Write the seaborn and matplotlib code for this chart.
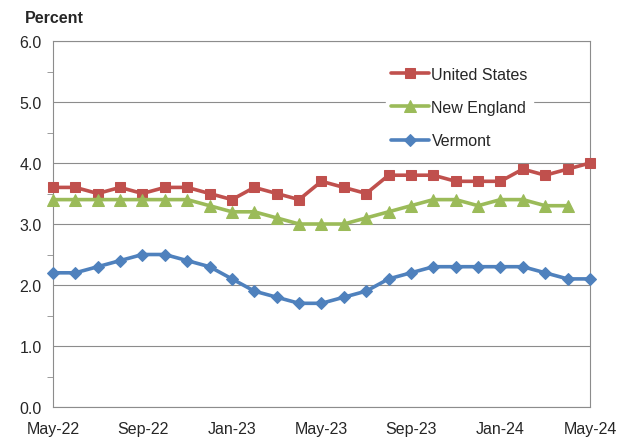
import numpy as np
import pandas as pd
import matplotlib
matplotlib.use('Agg')
import matplotlib.pyplot as plt
import seaborn as sns
from matplotlib.ticker import MultipleLocator

# monthly data, May-22 .. May-24
months = pd.date_range('2022-05-01', '2024-05-01', freq='MS')
us = [3.6, 3.6, 3.5, 3.6, 3.5, 3.6, 3.6, 3.5, 3.4, 3.6, 3.5, 3.4, 3.7,
      3.6, 3.5, 3.8, 3.8, 3.8, 3.7, 3.7, 3.7, 3.9, 3.8, 3.9, 4.0]
new_england = [3.4, 3.4, 3.4, 3.4, 3.4, 3.4, 3.4, 3.3, 3.2, 3.2, 3.1, 3.0, 3.0,
               3.0, 3.1, 3.2, 3.3, 3.4, 3.4, 3.3, 3.4, 3.4, 3.3, 3.3, np.nan]
vermont = [2.2, 2.2, 2.3, 2.4, 2.5, 2.5, 2.4, 2.3, 2.1, 1.9, 1.8, 1.7, 1.7,
           1.8, 1.9, 2.1, 2.2, 2.3, 2.3, 2.3, 2.3, 2.3, 2.2, 2.1, 2.1]
tick_labels = ['May-22', 'Sep-22', 'Jan-23', 'May-23', 'Sep-23', 'Jan-24', 'May-24']

df = pd.DataFrame({'pos': np.arange(len(months)),
                   'United States': us,
                   'New England': new_england,
                   'Vermont': vermont})

sns.set_style('white')
plt.rcParams['font.family'] = ['Liberation Sans', 'DejaVu Sans']

fig = plt.figure(figsize=(6.23, 4.39), dpi=100)
ax = fig.add_axes([0.085, 0.0706, 0.862, 0.8337])

series = [('United States', '#C0504D', 's', 7),
          ('New England', '#9BBB59', '^', 8),
          ('Vermont', '#4F81BD', 'D', 6.5)]
for name, col, mk, ms in series:
    sns.lineplot(data=df, x='pos', y=name, ax=ax, color=col, marker=mk,
                 markersize=ms, markeredgecolor=col, linewidth=2.6,
                 label=name, zorder=3, clip_on=False)

ax.set_xlim(0, len(months) - 1)
ax.set_ylim(0, 6)
ax.set_xticks(df['pos'][::4])
ax.set_xticklabels(tick_labels)
ax.yaxis.set_major_locator(MultipleLocator(1))
ax.yaxis.set_minor_locator(MultipleLocator(0.5))
ax.yaxis.set_major_formatter(matplotlib.ticker.FormatStrFormatter('%.1f'))
ax.set_xlabel('')
ax.set_ylabel('')
ax.grid(axis='y', color='#8c8c8c', linewidth=0.8)
ax.set_axisbelow(True)
for s in ax.spines.values():
    s.set_color('#8c8c8c')
    s.set_linewidth(0.8)
ax.tick_params(axis='both', which='both', direction='out', color='#8c8c8c',
               labelsize=11.5, pad=3)
ax.tick_params(axis='y', which='major', length=5)
ax.tick_params(axis='y', which='minor', length=4, left=True)
ax.tick_params(axis='x', length=6, pad=4)

leg = ax.legend(loc='upper left', bbox_to_anchor=(0.62, 0.943), frameon=True,
                fancybox=False, edgecolor='white', framealpha=1,
                fontsize=11.5, handlelength=2.4, handletextpad=0.15,
                labelspacing=1.15, borderaxespad=0, borderpad=0.3)

fig.text(0.04, 0.948, 'Percent', fontsize=11.5, fontweight='bold', ha='left')

fig.savefig('out.png', dpi=100)
